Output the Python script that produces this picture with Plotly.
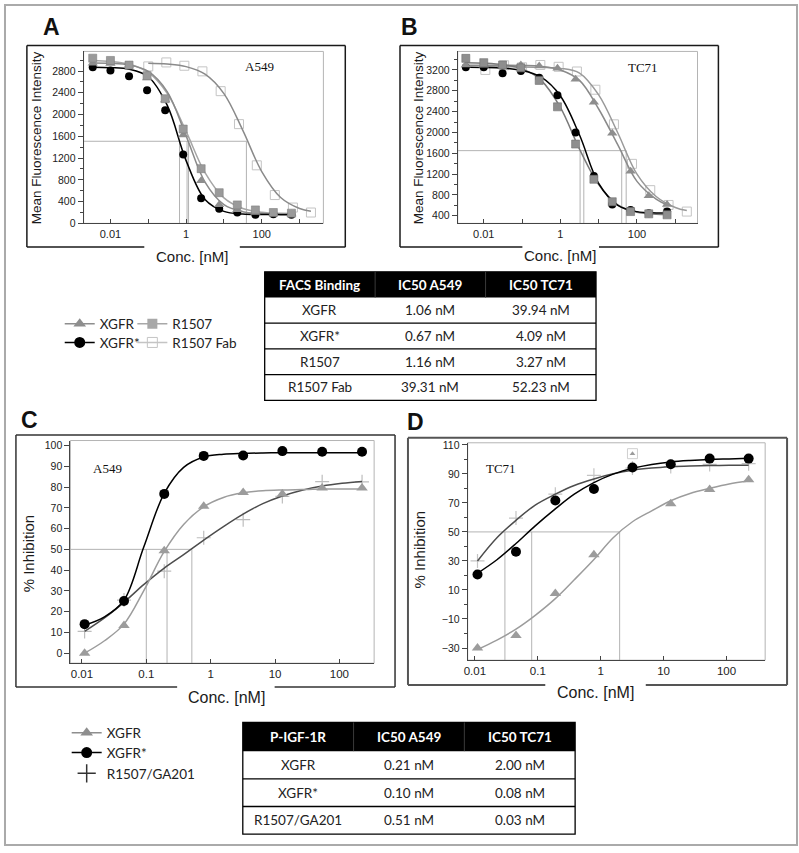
import plotly.graph_objects as go

W, H = 799, 853

# ---------------- data ----------------
# concentrations (nM)
conc_ab = [0.0034, 0.01, 0.031, 0.093, 0.28, 0.84, 2.5, 7.5, 22.6, 68, 203, 610]
conc_fab = [0.011, 0.034, 0.1, 0.3, 0.9, 2.7, 8.2, 25, 74, 222, 667, 2000]
conc_cd = [0.011, 0.045, 0.19, 0.78, 3.2, 13, 54, 225]

# A: FACS binding, A549 (mean fluorescence intensity)
a_xgfr = [2945, 2940, 2905, 2673, 2267, 1624, 785, 345, 250, 200, 180, 175]
a_xgfr_s = [2870, 2812, 2703, 2448, 2079, 1267, 461, 267, 200, 158, 170, 160]
a_r1507 = [3036, 2994, 2909, 2715, 2291, 1733, 1006, 564, 340, 248, 200, 188]
a_fab = [2885, 2958, 2897, 2794, 2430, 1824, 1067, 521, 291, 200]  # conc_fab[2:]

# B: FACS binding, TC71
b_xgfr = [3295, 3290, 3290, 3295, 3276, 3232, 3023, 2581, 1986, 1253, 784, 619]
b_xgfr_s = [3250, 3250, 3137, 3181, 3050, 2714, 1999, 1164, 619, 510, 450, 481]
b_r1507 = [3422, 3340, 3295, 3240, 2999, 2492, 1777, 1101, 670, 481, 437, 418]
b_fab = [3200, 3290, 3250, 3295, 3260, 3170, 2820, 2156, 1397, 892, 608, 481]

# C: P-IGF-1R, A549 (% inhibition)
c_xgfr = [0, 13.3, 49.3, 70.7, 77.4, 76.7, 79.5, 79.5]
c_xgfr_s = [14.0, 25.1, 76.7, 95.0, 95.2, 97.3, 97.0, 97.0]
c_r1507 = [10.5, 25.6, 39.5, 55.6, 64.3, 75.5, 82.6, 82.5]

# D: P-IGF-1R, TC71
d_xgfr = [-30, -21.3, 7.5, 34.3, None, 69.4, 79.3, 86.0]
d_xgfr_excl = [None, None, None, None, 103.9, None, None, None]
d_xgfr_s = [20.7, 36.3, 71.7, 79.6, 94.4, 96.6, 100.5, 100.5]
d_r1507 = [30, 59.5, 76, 89, 94, 95, 96.5, 97]

# fitted curves
fit_ab = [0.0034, 0.01, 0.0316, 0.1, 0.316, 1, 3.16, 10, 31.6, 100, 316, 610]
fit_fab_a = [0.1, 0.316, 1, 3.16, 10, 31.6, 100, 316, 1000, 2000]
fit_fab_b = [0.011, 0.0316, 0.1, 0.316, 1, 3.16, 10, 31.6, 100, 316, 1000, 2000]
fit_cd = [0.011, 0.0224, 0.045, 0.091, 0.19, 0.38, 0.78, 1.58, 3.2, 6.46, 13, 26.3, 54, 110, 225]

fa_xgfr = [2947, 2940, 2909, 2795, 2423, 1608, 759, 346, 216, 182, 173, 172]
fa_xgfr_s = [2869, 2862, 2833, 2695, 2172, 1153, 440, 221, 172, 163, 161, 160]
fa_r1507 = [2993, 2976, 2925, 2774, 2391, 1691, 932, 468, 275, 207, 185, 182]
fa_fab = [2943, 2928, 2881, 2742, 2385, 1710, 953, 477, 275, 224]

fb_xgfr = [3292, 3290, 3290, 3285, 3270, 3200, 3000, 2450, 1760, 1060, 720, 610]
fb_xgfr_s = [3250, 3248, 3235, 3190, 3060, 2700, 1950, 1020, 600, 480, 455, 452]
fb_r1507 = [3340, 3330, 3300, 3220, 3000, 2480, 1680, 1000, 610, 470, 432, 425]
fb_fab = [3260, 3260, 3258, 3250, 3230, 3140, 2720, 1990, 1200, 770, 560, 500]

fc_xgfr = [0, 6, 14, 30, 49, 62, 70.5, 75, 77.2, 78.2, 78.6, 78.8, 79, 79, 79]
fc_xgfr_s = [13.5, 17.5, 25.5, 51, 77, 89.5, 94.5, 95.8, 96.2, 96.4, 96.5, 96.5, 96.5, 96.5, 96.5]
fc_r1507 = [10.5, 17, 24.5, 33, 41, 47.5, 54.5, 61, 67, 72, 75.7, 78.5, 80.5, 81.8, 82.7]

fd_xgfr = [-31, -24.5, -17, -7.5, 4, 17, 31, 46, 57, 64.5, 71.5, 76.5, 80, 83, 85]
fd_xgfr_s = [21.5, 30.8, 42, 54.2, 65.9, 76, 84, 89.8, 93.8, 96.5, 98.2, 99.2, 99.9, 100.3, 100.7]
fd_r1507 = [30, 46, 58, 68.5, 76, 82, 86.5, 90, 92.5, 94, 94.9, 95.4, 95.7, 95.9, 96]

# IC50 tables
facs_names = ['XGFR', 'XGFR*', 'R1507', 'R1507 Fab']
facs_a549 = [1.06, 0.67, 1.16, 39.31]
facs_tc71 = [39.94, 4.09, 3.27, 52.23]
pigf_names = ['XGFR', 'XGFR*', 'R1507/GA201']
pigf_a549 = [0.21, 0.10, 0.51]
pigf_tc71 = [2.00, 0.08, 0.03]

# half-maximal levels used for the IC50 guide lines
half_a, half_b, half_c, half_d = 1509, 1651, 50, 50


def px(x):
    return x / W


def py(y):
    return 1 - y / H


GRAY_T = '#8e8e8e'
GRAY_S = '#9a9a9a'
GRAY_F = '#c4c4c4'
GUIDE = '#a0a0a0'

fig = go.Figure()


def pts(x, y, ax, sym, size, fill, edge=None, lw=0):
    fig.add_trace(go.Scatter(
        x=x, y=y, mode='markers', xaxis='x' + ax, yaxis='y' + ax, showlegend=False,
        marker=dict(symbol=sym, size=size, color=fill,
                    line=dict(color=edge or fill, width=lw))))


def curve(x, y, ax, color, width=1.5):
    fig.add_trace(go.Scatter(
        x=x, y=y, mode='lines', xaxis='x' + ax, yaxis='y' + ax, showlegend=False,
        line=dict(color=color, width=width, shape='spline', smoothing=1.0)))


def guides(ax, ics, half, xlo, ylo, color=GUIDE):
    fig.add_trace(go.Scatter(
        x=[xlo, max(ics)], y=[half, half], mode='lines', xaxis='x' + ax, yaxis='y' + ax,
        showlegend=False, line=dict(color=color, width=0.8)))
    for ic in ics:
        fig.add_trace(go.Scatter(
            x=[ic, ic], y=[ylo, half], mode='lines', xaxis='x' + ax, yaxis='y' + ax,
            showlegend=False, line=dict(color=color, width=0.8)))


rng = {
    '': ([-2.71, 3.63], [0, 3160]),
    '2': ([-2.68, 3.58], [254, 3555]),
    '3': ([-2.18, 2.54], [-4.8, 102.4]),
    '4': ([-2.115, 2.615], [-38.4, 111.4]),
}

# ---- panel A ----
guides('', facs_a549, half_a, 10 ** rng[''][0][0], rng[''][1][0])
pts(conc_fab[2:], a_fab, '', 'square-open', 9, GRAY_F, GRAY_F, 1)
curve(fit_fab_a, fa_fab, '', '#8a8a8a')
curve(fit_ab, fa_r1507, '', '#a6a6a6')
curve(fit_ab, fa_xgfr, '', '#8a8a8a')
curve(fit_ab, fa_xgfr_s, '', '#000000')
pts(conc_ab, a_xgfr_s, '', 'circle', 8, '#000000')
pts(conc_ab, a_xgfr, '', 'triangle-up', 9, GRAY_T)
pts(conc_ab, a_r1507, '', 'square', 8, GRAY_S, '#808080', 0.6)

# ---- panel B ----
guides('2', facs_tc71, half_b, 10 ** rng['2'][0][0], rng['2'][1][0])
pts(conc_fab, b_fab, '2', 'square-open', 9, GRAY_F, GRAY_F, 1)
curve(fit_fab_b, fb_fab, '2', '#9a9a9a')
curve(fit_ab, fb_xgfr, '2', '#8a8a8a')
curve(fit_ab, fb_r1507, '2', '#7a7a7a')
curve(fit_ab, fb_xgfr_s, '2', '#000000')
pts(conc_ab, b_xgfr_s, '2', 'circle', 8, '#000000')
pts(conc_ab, b_xgfr, '2', 'triangle-up', 9, GRAY_T)
pts(conc_ab, b_r1507, '2', 'square', 8, '#8e8e8e', '#707070', 0.6)

# ---- panel C ----
guides('3', pigf_a549, half_c, 10 ** rng['3'][0][0], rng['3'][1][0])
pts(conc_cd, c_r1507, '3', 'cross-thin', 10, '#bdbdbd', '#bdbdbd', 1.2)
curve(fit_cd, fc_r1507, '3', '#4d4d4d')
curve(fit_cd, fc_xgfr, '3', '#9c9c9c')
curve(fit_cd, fc_xgfr_s, '3', '#000000')
pts(conc_cd, c_xgfr, '3', 'triangle-up', 10, '#9c9c9c')
pts(conc_cd, c_xgfr_s, '3', 'circle', 10, '#000000')

# ---- panel D ----
guides('4', pigf_tc71, half_d, 10 ** rng['4'][0][0], rng['4'][1][0])
pts(conc_cd, d_r1507, '4', 'cross-thin', 10, '#c4c4c4', '#c4c4c4', 1.2)
curve(fit_cd, fd_r1507, '4', '#4d4d4d')
curve(fit_cd, fd_xgfr, '4', '#9c9c9c')
curve(fit_cd, fd_xgfr_s, '4', '#000000')
pts(conc_cd, d_xgfr, '4', 'triangle-up', 10, '#9c9c9c')
pts(conc_cd, d_xgfr_excl, '4', 'square-open', 10, '#cfcfcf', '#cfcfcf', 1)
pts(conc_cd, d_xgfr_excl, '4', 'triangle-up', 5, '#9c9c9c')
pts(conc_cd, d_xgfr_s, '4', 'circle', 10, '#000000')

# ---- legends: one small legend per entry so each row sits where it should ----
legend_style = dict(xanchor='left', yanchor='top', bgcolor='rgba(0,0,0,0)', itemwidth=30,
                    font=dict(family='Lato', size=13.5, color='#222222'))
legend_boxes = {}


def leg(name, legend, pos, sym, size, color, mode='lines+markers', lw=1.5, mline=0):
    fig.add_trace(go.Scatter(
        x=[None], y=[None], mode=mode, name=name, legend=legend, showlegend=True,
        line=dict(color=color, width=lw),
        marker=dict(symbol=sym, size=size, color=color, line=dict(color=color, width=mline))))
    legend_boxes[legend] = dict(x=px(pos[0]), y=py(pos[1]), **legend_style)


leg('XGFR', 'legend', (56, 308), 'triangle-up', 11, GRAY_T)
leg('XGFR*', 'legend2', (56, 327), 'circle', 11, '#000000')
leg('R1507', 'legend3', (129, 308), 'square', 10, '#a8a8a8')
leg('R1507 Fab', 'legend4', (129, 327), 'square-open', 10, '#c4c4c4', mline=1)
leg('XGFR', 'legend5', (63, 722), 'triangle-up', 11, GRAY_T)
leg('XGFR*', 'legend6', (63, 742), 'circle', 11, '#000000')
leg('R1507/GA201', 'legend7', (63, 763), 'cross-thin', 13, '#333333', mode='markers', mline=1.5)


# ---- axes ----
def xaxis(dom, r, vals, text, anchor, fs=11):
    return dict(domain=[px(dom[0]), px(dom[1])], type='log', range=r, anchor=anchor,
                tickvals=vals, ticktext=text, ticks='inside', ticklen=4, tickcolor='#444444',
                showline=True, linecolor='#444444', linewidth=1, showgrid=False,
                zeroline=False, tickfont=dict(family='Liberation Sans', size=fs, color='#222222'))


def yaxis(dom, r, vals, anchor, minor_dt=None, fs=11):
    ax = dict(domain=[py(dom[1]), py(dom[0])], range=r, anchor=anchor, tickvals=vals,
              ticks='outside', ticklen=5, tickcolor='#444444', showline=True,
              linecolor='#444444', linewidth=1, showgrid=False, zeroline=False,
              tickfont=dict(family='Liberation Sans', size=fs, color='#222222'))
    if minor_dt:
        ax['minor'] = dict(dtick=minor_dt, tick0=0, ticks='outside', ticklen=3,
                           tickcolor='#444444', showgrid=False)
    return ax


dec_ab = [0.01, 0.1, 1, 10, 100, 1000]
dec_ab_txt = ['0.01', '', '1', '', '100', '']
dec_cd = [0.01, 0.1, 1, 10, 100]
dec_cd_txt = ['0.01', '0.1', '1', '10', '100']

layout = dict(
    width=W, height=H, margin=dict(l=0, r=0, t=0, b=0),
    paper_bgcolor='white', plot_bgcolor='white',
    xaxis=xaxis((80, 321), rng[''][0], dec_ab, dec_ab_txt, 'y'),
    yaxis=yaxis((48, 222), rng[''][1], list(range(0, 2801, 400)), 'x', 200, 10.5),
    xaxis2=xaxis((456, 697), rng['2'][0], dec_ab, dec_ab_txt, 'y2'),
    yaxis2=yaxis((48, 222), rng['2'][1], list(range(400, 3201, 400)), 'x2', 200, 10.5),
    xaxis3=xaxis((66.7, 372), rng['3'][0], dec_cd, dec_cd_txt, 'y3', 11.5),
    yaxis3=yaxis((441.7, 667), rng['3'][1], list(range(0, 101, 10)), 'x3', None, 10.5),
    xaxis4=xaxis((466, 765), rng['4'][0], dec_cd, dec_cd_txt, 'y4', 11.5),
    yaxis4=yaxis((444, 664), rng['4'][1], list(range(-30, 111, 20)), 'x4', 10, 10.5),
    **legend_boxes,
)
fig.update_layout(**layout)

# ---- shapes ----
shapes = []


def line(x0, y0, x1, y1, color, width):
    shapes.append(dict(type='line', xref='paper', yref='paper', x0=px(x0), y0=py(y0),
                       x1=px(x1), y1=py(y1), line=dict(color=color, width=width)))


def outer_box(l, t, r, b, g0, g1, color, width):
    line(l, t, r, t, color, width)
    line(l, t, l, b, color, width)
    line(r, t, r, b, color, width)
    line(l, b, g0, b, color, width)
    line(g1, b, r, b, color, width)


# figure border
shapes.append(dict(type='rect', xref='paper', yref='paper', x0=px(1), y0=py(851),
                   x1=px(797), y1=py(1), line=dict(color='#aaaaaa', width=2)))
outer_box(23, 42, 343, 246, 141, 237, '#1a1a1a', 1.5)
outer_box(398, 42, 718, 246, 521, 598, '#1a1a1a', 1.5)
outer_box(12, 436, 393, 691, 174, 272, '#333333', 1.5)
outer_box(406, 439, 787, 689, 544, 645, '#555555', 2)

# light frame round each plot area
for ax in ['x', 'x2', 'x3', 'x4']:
    yv = 'y' + ax[1:]
    shapes.append(dict(type='rect', xref=ax + ' domain', yref=yv + ' domain', x0=0, y0=0,
                       x1=1, y1=1, line=dict(color='#b4b4b4', width=1), layer='below'))

annotations = []


def text(x, y, s, size, family='Liberation Sans', color='#1a1a1a', angle=0, bold=False):
    annotations.append(dict(x=px(x), y=py(y), xref='paper', yref='paper', showarrow=False,
                            text='<b>%s</b>' % s if bold else s, textangle=angle,
                            xanchor='center', yanchor='middle',
                            font=dict(family=family, size=size, color=color)))


def table(l, r, t, head_h, row_h, header, names, col1, col2):
    n = len(names)
    b = t + head_h + n * row_h
    shapes.append(dict(type='rect', xref='paper', yref='paper', x0=px(l), y0=py(t + head_h),
                       x1=px(r), y1=py(t), fillcolor='#000000', line=dict(width=0)))
    shapes.append(dict(type='rect', xref='paper', yref='paper', x0=px(l), y0=py(b),
                       x1=px(r), y1=py(t), line=dict(color='#000000', width=1.3)))
    cw = (r - l) / 3
    for k in (1, 2):
        line(l + k * cw, t, l + k * cw, t + head_h, '#3a3a3a', 1)
    for i in range(1, n):
        yy = t + head_h + i * row_h
        line(l, yy, r, yy, '#000000', 1.3)
    for j, h in enumerate(header):
        text(l + cw * (j + 0.5), t + head_h / 2, h, 13.5, 'Lato', 'white', bold=True)
    for i in range(n):
        yy = t + head_h + (i + 0.5) * row_h
        text(l + cw * 0.5, yy, names[i], 13.5, 'Lato', '#222222')
        text(l + cw * 1.5, yy, '%.2f nM' % col1[i], 13.5, 'Lato', '#222222')
        text(l + cw * 2.5, yy, '%.2f nM' % col2[i], 13.5, 'Lato', '#222222')


table(262, 595, 271, 26, 26, ['FACS Binding', 'IC50 A549', 'IC50 TC71'],
      facs_names, facs_a549, facs_tc71)
table(240, 574, 727, 29, 28, ['P-IGF-1R', 'IC50 A549', 'IC50 TC71'],
      pigf_names, pigf_a549, pigf_tc71)

# panel letters
text(48, 23, 'A', 23, bold=True, color='#111111')
text(408, 23, 'B', 23, bold=True, color='#111111')
text(26, 421, 'C', 23, bold=True, color='#111111')
text(414, 423, 'D', 23, bold=True, color='#111111')

# axis titles
text(33, 135, 'Mean Fluorescence Intensity', 13.5, angle=-90)
text(417, 135, 'Mean Fluorescence Intensity', 13.5, angle=-90)
text(189, 255, 'Conc. [nM]', 15)
text(559, 254, 'Conc. [nM]', 15)
text(25, 556, '% Inhibition', 15, angle=-90)
text(418, 552, '% Inhibition', 15, angle=-90)
text(224, 702, 'Conc. [nM]', 16)
text(594, 697, 'Conc. [nM]', 16)

# cell line labels
text(257, 63, 'A549', 13, 'Liberation Serif', '#111111')
text(642, 64, 'TC71', 13, 'Liberation Serif', '#111111')
text(104, 470, 'A549', 13, 'Liberation Serif', '#111111')
text(499, 470, 'TC71', 13, 'Liberation Serif', '#111111')

fig.update_layout(shapes=shapes, annotations=annotations)
fig.write_html("out.html", config={'displayModeBar': False},
               post_script="document.body.style.margin='0';")
